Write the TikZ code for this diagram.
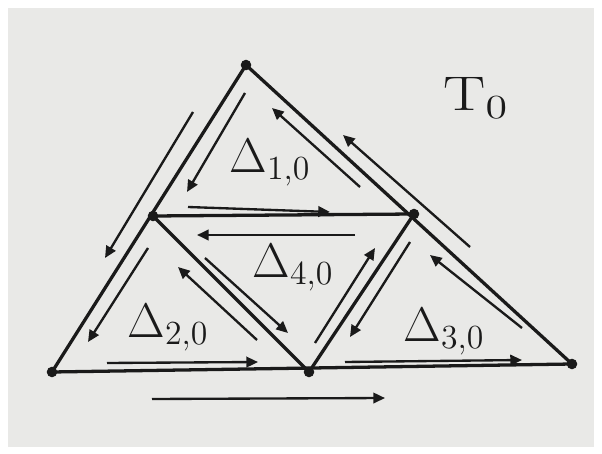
\documentclass[tikz,border=0pt]{standalone}
\usepackage{xcolor}
\usetikzlibrary{arrows.meta}

\definecolor{paper}{HTML}{E9E9E7}
\definecolor{ink}{HTML}{1A1A1A}

\begin{document}
\begin{tikzpicture}[
x=0.03cm, y=-0.03cm,
edge/.style={
draw=ink,
line width=2.8pt,
line join=round
},
flow/.style={
draw=ink,
line width=2pt,
-{Triangle[length=10pt,width=9pt]}
},
vert/.style={
circle,
fill=ink,
inner sep=0pt,
minimum size=9pt
},
lab/.style={
text=ink,
font=\fontsize{20}{24}\selectfont,
scale=2
}
]

\useasboundingbox (0,0) rectangle (602,454);
\fill[white] (0,0) rectangle (602,454);
\fill[paper] (8,8) rectangle (594,447);

\node[vert] (top) at (246,65) {};
\node[vert] (bl) at (52,372) {};
\node[vert] (br) at (572,364) {};
\node[vert] (lm) at (153,216) {};
\node[vert] (rm) at (414,214) {};
\node[vert] (bm) at (309,372) {};

\draw[edge] (top.center) -- (bl.center) -- (br.center) -- cycle;

\draw[edge] (lm.center) -- (rm.center) -- (bm.center) -- cycle;

\node[lab, xscale=1.3] (tlab) at (476,98) {$\mathrm{T}_0$};
\node[lab] (d1) at (270,163) {$\Delta_{1,0}$};
\node[lab] (d4) at (293,268) {$\Delta_{4,0}$};
\node[lab] (d2) at (168,328) {$\Delta_{2,0}$};
\node[lab] (d3) at (444,332) {$\Delta_{3,0}$};

\coordinate (outL-a) at (193,112);
\coordinate (outL-b) at (105,258);
\coordinate (outR-a) at (470,247);
\coordinate (outR-b) at (343,135);
\coordinate (outB-a) at (152,399);
\coordinate (outB-b) at (385,398);

\coordinate (oneL-a) at (245,93);
\coordinate (oneL-b) at (187,192);
\coordinate (oneR-a) at (360,187);
\coordinate (oneR-b) at (272,108);
\coordinate (oneB-a) at (188,207);
\coordinate (oneB-b) at (330,212);

\coordinate (fourT-a) at (355,235);
\coordinate (fourT-b) at (197,235);
\coordinate (fourL-a) at (205,258);
\coordinate (fourL-b) at (288,333);
\coordinate (fourR-a) at (315,343);
\coordinate (fourR-b) at (375,248);

\coordinate (twoL-a) at (148,248);
\coordinate (twoL-b) at (88,342);
\coordinate (twoR-a) at (257,340);
\coordinate (twoR-b) at (178,267);
\coordinate (twoB-a) at (107,363);
\coordinate (twoB-b) at (258,362);

\coordinate (threeL-a) at (410,242);
\coordinate (threeL-b) at (350,337);
\coordinate (threeR-a) at (522,328);
\coordinate (threeR-b) at (430,255);
\coordinate (threeB-a) at (345,362);
\coordinate (threeB-b) at (522,360);

\foreach \arr in {outL,outR,outB,oneL,oneR,oneB,fourT,fourL,fourR,twoL,twoR,twoB,threeL,threeR,threeB}
\draw[flow] (\arr-a) -- (\arr-b);

\end{tikzpicture}
\end{document}
